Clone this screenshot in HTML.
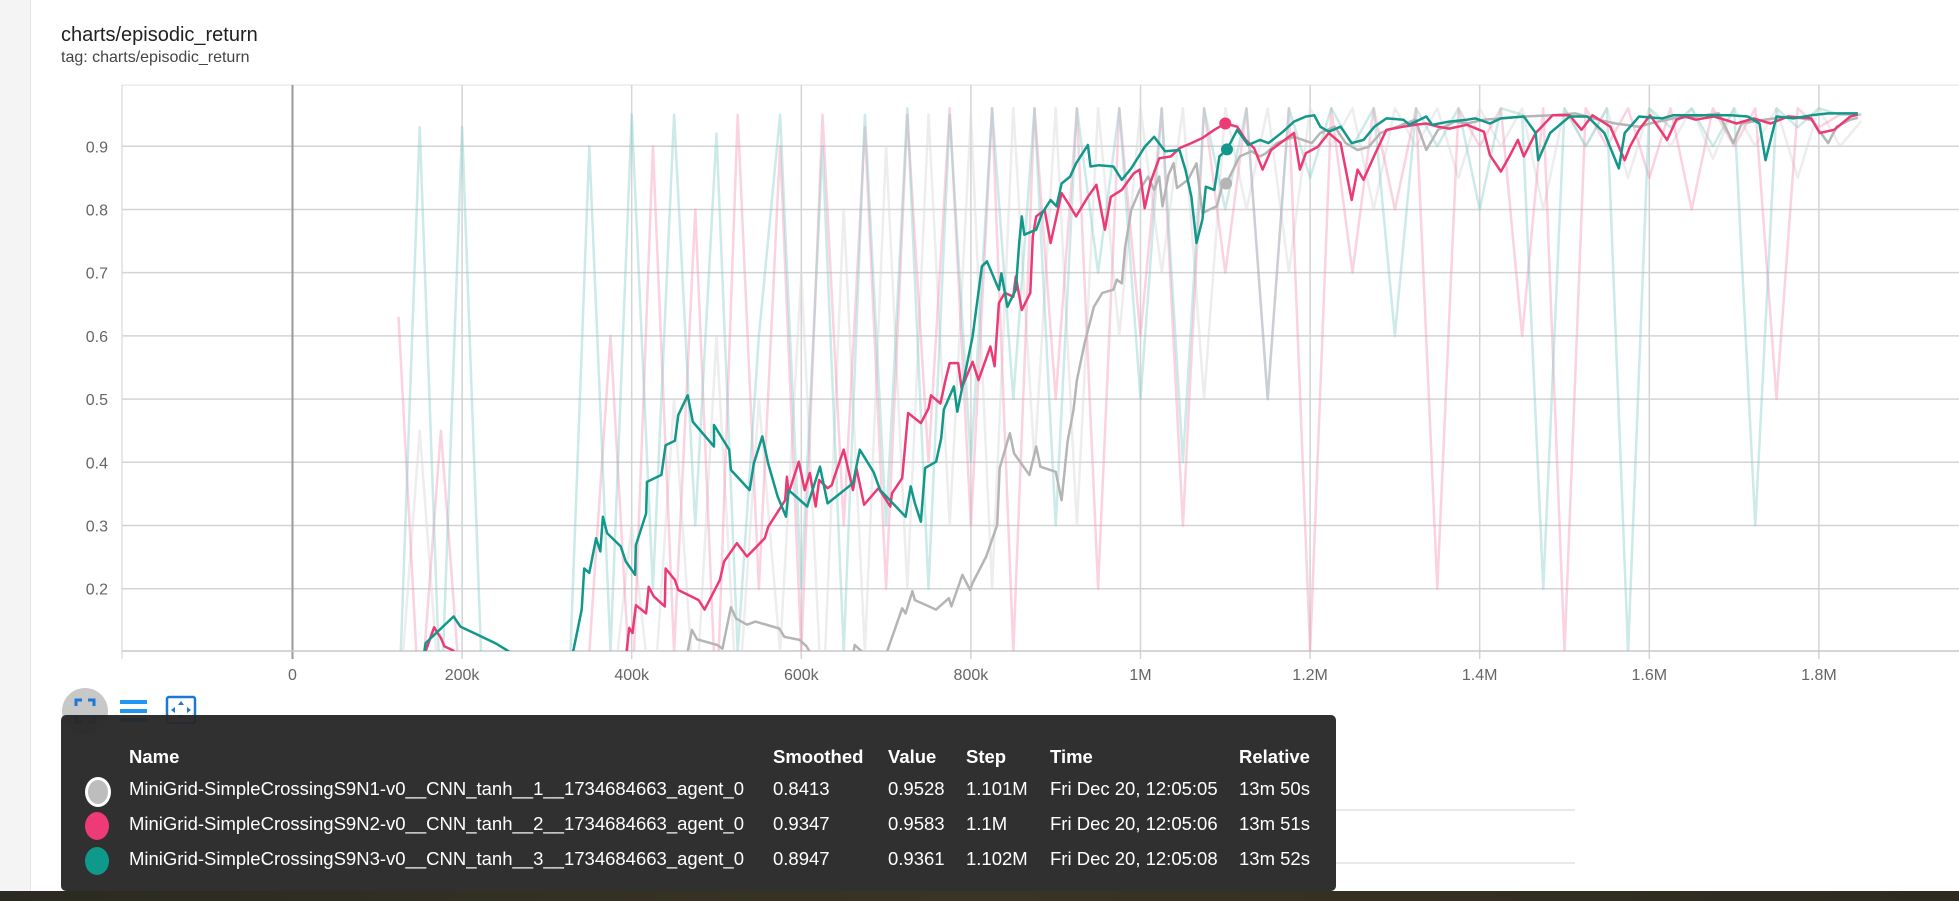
<!DOCTYPE html>
<html><head><meta charset="utf-8">
<style>
html,body{margin:0;padding:0;width:1959px;height:901px;overflow:hidden;background:#fff;font-family:"Liberation Sans",sans-serif;}
#side{position:absolute;left:0;top:0;width:30px;height:901px;background:#f4f4f4;border-right:1px solid #e4e4e4;}
#title{position:absolute;left:61px;top:24px;font-size:20px;color:#212121;}
#tag{position:absolute;left:61px;top:49px;font-size:16px;color:#444;}
svg{position:absolute;left:0;top:0;}
#legend{position:absolute;left:61px;top:715px;width:1275px;height:176px;background:rgba(40,40,40,0.96);border-radius:5px;color:#fff;font-size:18.5px;}
.row{position:absolute;left:0;width:100%;height:30px;}
.row span{position:absolute;white-space:nowrap;}
.hdr span{font-weight:bold;}
.dot{position:absolute;left:24px;width:24px;height:28px;border-radius:50%;}
#bottom{position:absolute;left:0;top:891px;width:1959px;height:10px;background:linear-gradient(90deg,#2b2a22,#3a3424 50%,#2e2a20);}
</style></head><body>
<div id="side"></div>
<div id="title">charts/episodic_return</div>
<div id="tag">tag: charts/episodic_return</div>
<svg id="chart" width="1959" height="901"></svg>
<div id="legend">
 <div class="row hdr" style="top:31px">
  <span style="left:68px">Name</span><span style="left:712px">Smoothed</span><span style="left:827px">Value</span><span style="left:905px">Step</span><span style="left:989px">Time</span><span style="left:1178px">Relative</span>
 </div>
 <div class="row" style="top:63px">
  <div class="dot" style="background:#bdbdbd;border:3px solid #fff;width:20px;height:24px;top:-1px"></div>
  <span style="left:68px">MiniGrid-SimpleCrossingS9N1-v0__CNN_tanh__1__1734684663_agent_0</span><span style="left:712px">0.8413</span><span style="left:827px">0.9528</span><span style="left:905px">1.101M</span><span style="left:989px">Fri Dec 20, 12:05:05</span><span style="left:1178px">13m 50s</span>
 </div>
 <div class="row" style="top:98px">
  <div class="dot" style="background:#ee3a77;top:-1px"></div>
  <span style="left:68px">MiniGrid-SimpleCrossingS9N2-v0__CNN_tanh__2__1734684663_agent_0</span><span style="left:712px">0.9347</span><span style="left:827px">0.9583</span><span style="left:905px">1.1M</span><span style="left:989px">Fri Dec 20, 12:05:06</span><span style="left:1178px">13m 51s</span>
 </div>
 <div class="row" style="top:133px">
  <div class="dot" style="background:#0f998a;top:-1px"></div>
  <span style="left:68px">MiniGrid-SimpleCrossingS9N3-v0__CNN_tanh__3__1734684663_agent_0</span><span style="left:712px">0.8947</span><span style="left:827px">0.9361</span><span style="left:905px">1.102M</span><span style="left:989px">Fri Dec 20, 12:05:08</span><span style="left:1178px">13m 52s</span>
 </div>
</div>
<div id="bottom"></div>
<script>
const xTicks=[0,200,400,600,800,1000,1200,1400,1600,1800];
const xTickLabels=["0","200k","400k","600k","800k","1M","1.2M","1.4M","1.6M","1.8M"];
const yTicks=[0.2,0.3,0.4,0.5,0.6,0.7,0.8,0.9];
const yTickLabels=["0.2","0.3","0.4","0.5","0.6","0.7","0.8","0.9"];
const rawSteps=[125,150,175,200,225,250,275,300,325,350,375,400,425,450,475,500,525,550,575,600,625,650,675,700,725,750,775,800,825,850,875,900,925,950,975,1000,1025,1050,1075,1100,1125,1150,1175,1200,1225,1250,1275,1300,1325,1350,1375,1400,1425,1450,1475,1500,1525,1550,1575,1600,1625,1650,1675,1700,1725,1750,1775,1800,1825,1850];
const rawGray=[0,0.45,0,0,0,0,0,0,0,0, 0,0.3,0,0.5,0,0.6,0,0.5,0.1,0.7, 0,0.8,0.1,0.9,0.2,0.95,0.3,0.95,0.2,0.96, 0.4,0.96,0.3,0.96,0.6,0.96,0.7,0.96,0.5,0.96, 0.8,0.96,0.7,0.96,0.9,0.96,0.8,0.96,0.9,0.96, 0.85,0.96,0.9,0.96,0.8,0.96,0.9,0.96,0.85,0.96, 0.9,0.96,0.88,0.96,0.9,0.96,0.85,0.96,0.9,0.94];
const rawPink=[0.63,0,0.45,0,0,0,0,0,0,0.1, 0.6,0,0.9,0.1,0.8,0,0.95,0.2,0.9,0.1, 0.95,0.3,0.93,0.2,0.95,0.4,0.96,0.3,0.96,0.1, 0.96,0.5,0.96,0.2,0.96,0.6,0.96,0.3,0.96,0.7, 0.96,0.5,0.96,0.1,0.96,0.7,0.96,0.8,0.96,0.2, 0.96,0.9,0.96,0.6,0.96,0.1,0.96,0.9,0.96,0.85, 0.96,0.8,0.96,0.9,0.96,0.5,0.96,0.93,0.95,0.95];
const rawTeal=[0,0.93,0,0.93,0,0,0,0,0,0.9, 0.1,0.95,0.2,0.95,0.3,0.92,0.1,0.6,0.95,0.2, 0.9,0.1,0.95,0.3,0.96,0.2,0.95,0.4,0.96,0.5, 0.96,0.3,0.96,0.7,0.96,0.5,0.96,0.4,0.96,0.8, 0.96,0.5,0.96,0.85,0.96,0.9,0.96,0.6,0.96,0.9, 0.96,0.8,0.96,0.95,0.2,0.96,0.9,0.96,0.1,0.96, 0.93,0.96,0.9,0.96,0.3,0.96,0.93,0.96,0.95,0.95];

const graySteps=[450,466,471,477,501,507,517,523,536,546,574,580,598,606,610,620,655,663,672,680,695,701,719,723,731,734,759,774,777,790,799,802,818,831,834,846,851,869,877,882,900,907,914,921,925,934,945,955,968,972,978,982,989,999,1009,1016,1022,1026,1033,1039,1043,1056,1066,1073,1080,1090,1097,1101,1107,1117,1131,1141,1148,1161,1181,1202,1212,1229,1242,1256,1269,1283,1303,1324,1337,1351,1371,1385,1405,1425,1452,1486,1513,1540,1560,1588,1601,1628,1655,1682,1699,1709,1736,1764,1791,1811,1821,1837,1846];
const grayVals=[0.05,0.101,0.135,0.12,0.111,0.105,0.171,0.153,0.143,0.148,0.137,0.124,0.119,0.109,0.1,0.05,0.05,0.111,0.1,0.05,0.05,0.1,0.169,0.161,0.196,0.182,0.167,0.185,0.172,0.222,0.198,0.209,0.251,0.301,0.391,0.446,0.414,0.38,0.425,0.393,0.385,0.34,0.433,0.483,0.53,0.588,0.646,0.668,0.673,0.689,0.683,0.741,0.799,0.831,0.852,0.831,0.852,0.805,0.855,0.873,0.834,0.847,0.873,0.794,0.799,0.805,0.841,0.841,0.857,0.884,0.892,0.884,0.889,0.905,0.915,0.905,0.921,0.931,0.905,0.894,0.899,0.921,0.931,0.942,0.894,0.926,0.939,0.936,0.942,0.944,0.947,0.949,0.952,0.942,0.936,0.931,0.936,0.944,0.947,0.952,0.905,0.936,0.942,0.947,0.942,0.905,0.931,0.942,0.945];

const pinkSteps=[150,157,167,175,179,190,200,385,394,397,401,405,417,420,426,439,440,451,455,479,486,504,509,524,536,557,561,581,583,585,597,604,610,617,621,631,636,639,650,661,665,674,691,705,707,719,726,741,750,753,764,770,775,785,789,802,809,823,828,833,840,850,853,860,870,873,877,887,894,901,907,917,924,938,948,958,965,978,992,999,1005,1012,1022,1036,1046,1060,1073,1087,1100,1114,1124,1134,1144,1154,1175,1181,1188,1195,1209,1222,1236,1249,1256,1263,1276,1290,1310,1324,1337,1351,1364,1385,1405,1412,1425,1435,1445,1452,1466,1486,1506,1520,1533,1554,1571,1577,1588,1601,1621,1632,1642,1655,1676,1689,1703,1723,1743,1764,1791,1801,1818,1837,1846];
const pinkVals=[0.05,0.101,0.139,0.122,0.109,0.102,0.05,0.05,0.101,0.138,0.13,0.174,0.161,0.203,0.188,0.172,0.232,0.214,0.198,0.182,0.167,0.214,0.243,0.272,0.251,0.28,0.298,0.34,0.377,0.351,0.401,0.356,0.383,0.33,0.372,0.359,0.364,0.377,0.42,0.356,0.391,0.333,0.359,0.33,0.351,0.375,0.478,0.462,0.485,0.506,0.493,0.53,0.557,0.557,0.517,0.559,0.53,0.583,0.552,0.652,0.668,0.662,0.694,0.641,0.668,0.757,0.789,0.799,0.747,0.789,0.826,0.805,0.789,0.82,0.839,0.768,0.82,0.831,0.857,0.863,0.802,0.844,0.881,0.884,0.897,0.905,0.913,0.926,0.936,0.931,0.91,0.897,0.863,0.894,0.915,0.921,0.863,0.889,0.899,0.921,0.905,0.815,0.863,0.847,0.886,0.926,0.931,0.934,0.936,0.931,0.928,0.934,0.923,0.886,0.86,0.884,0.91,0.884,0.921,0.949,0.949,0.926,0.949,0.931,0.878,0.899,0.926,0.949,0.91,0.942,0.947,0.942,0.947,0.942,0.936,0.944,0.936,0.947,0.944,0.921,0.926,0.947,0.95];

const tealSteps=[150,157,190,198,239,255,270,320,331,341,344,350,358,363,366,371,387,393,404,405,417,418,435,440,451,455,466,472,497,497,515,517,539,544,554,561,572,582,585,607,622,631,661,669,685,693,723,729,734,741,746,759,765,768,780,784,802,813,819,833,836,843,853,857,860,863,877,884,894,901,907,917,924,938,941,951,968,978,989,1005,1016,1029,1046,1053,1060,1066,1073,1077,1087,1093,1102,1114,1127,1141,1151,1168,1181,1195,1205,1212,1222,1236,1249,1263,1276,1290,1310,1317,1337,1344,1364,1385,1395,1412,1425,1452,1466,1469,1483,1506,1527,1547,1564,1571,1588,1615,1628,1655,1676,1696,1716,1730,1737,1750,1770,1791,1811,1837,1846];
const tealVals=[0.05,0.114,0.156,0.14,0.114,0.101,0.05,0.05,0.101,0.167,0.232,0.225,0.28,0.259,0.314,0.288,0.267,0.243,0.222,0.269,0.319,0.369,0.38,0.427,0.434,0.475,0.506,0.464,0.425,0.459,0.42,0.388,0.356,0.398,0.441,0.398,0.346,0.314,0.356,0.33,0.393,0.335,0.367,0.42,0.385,0.356,0.314,0.362,0.335,0.306,0.391,0.401,0.438,0.483,0.52,0.48,0.599,0.71,0.718,0.673,0.699,0.646,0.673,0.747,0.789,0.76,0.768,0.794,0.815,0.805,0.841,0.852,0.873,0.902,0.868,0.87,0.868,0.847,0.865,0.899,0.915,0.892,0.894,0.863,0.82,0.747,0.784,0.836,0.831,0.884,0.895,0.926,0.902,0.91,0.905,0.923,0.939,0.947,0.949,0.931,0.923,0.931,0.905,0.91,0.931,0.944,0.942,0.934,0.947,0.934,0.939,0.942,0.944,0.936,0.944,0.947,0.921,0.878,0.921,0.947,0.947,0.921,0.865,0.921,0.947,0.944,0.949,0.949,0.949,0.949,0.947,0.936,0.878,0.947,0.944,0.949,0.952,0.952,0.952];

const hoverSteps=[1101,1100,1102];
const hoverVals=[0.841,0.936,0.895];

const NS="http://www.w3.org/2000/svg";
const svg=document.getElementById('chart');
const L=122,R=1959,T=85,B=651;
function X(s){return 292.5+s/200*169.6;}
function Y(v){return 146.25+(0.9-v)*632.1;}
function mk(tag,attrs,parent){const e=document.createElementNS(NS,tag);for(const k in attrs)e.setAttribute(k,attrs[k]);(parent||svg).appendChild(e);return e;}

const defs=mk('defs',{});
const cp=mk('clipPath',{id:'plotclip'},defs);
mk('rect',{x:L,y:T,width:R-L,height:B-T},cp);

const grid=mk('g',{});


mk('line',{x1:L,x2:R,y1:T,y2:T,stroke:'#e0e0e0','stroke-width':1},grid);
mk('line',{x1:L,x2:L,y1:T,y2:B+8,stroke:'#d0d0d0','stroke-width':1},grid);
yTicks.forEach((v,i)=>{
  mk('line',{x1:L,x2:R,y1:Y(v),y2:Y(v),stroke:'#d4d4d4','stroke-width':1.5},grid);
  const t=mk('text',{x:108,y:Y(v)+6,'text-anchor':'end','font-size':16,fill:'#666','font-family':'Liberation Sans, sans-serif'});
  t.textContent=yTickLabels[i];
  
  
});
xTicks.forEach((s,i)=>{
  mk('line',{x1:X(s),x2:X(s),y1:T,y2:B+8,stroke:s===0?'#9a9a9a':'#d4d4d4','stroke-width':s===0?2:1.5},grid);
  const t=mk('text',{x:X(s),y:680,'text-anchor':'middle','font-size':16,fill:'#666','font-family':'Liberation Sans, sans-serif'});
  t.textContent=xTickLabels[i];
  
  
});
mk('line',{x1:L,x2:R,y1:B,y2:B,stroke:'#c8c8c8','stroke-width':1.5},grid);

const plot=mk('g',{'clip-path':'url(#plotclip)'});


function line(steps,vals,color,w,op,name){
  const n=Math.min(steps.length,vals.length);let d='';
  for(let i=0;i<n;i++)d+=(i?'L':'M')+X(steps[i]).toFixed(1)+','+Y(vals[i]).toFixed(1);
  const p=mk('path',{d:d,fill:'none',stroke:color,'stroke-width':w,'stroke-opacity':op,'stroke-linejoin':'round'},plot);
  
  
}
line(rawSteps,rawGray,'#dcdcdc',2.5,0.5,'raw-line-run1');
line(rawSteps,rawPink,'#f48fb1',2.5,0.4,'raw-line-run2');
line(rawSteps,rawTeal,'#80cbc4',2.5,0.4,'raw-line-run3');
line(graySteps,grayVals,'#b5b5b5',2.5,1,'smoothed-line-run1');
line(pinkSteps,pinkVals,'#ec3a74',2.5,1,'smoothed-line-run2');
line(tealSteps,tealVals,'#11988a',2.5,1,'smoothed-line-run3');
const hc=['#b5b5b5','#ec3a74','#11988a'];
hoverSteps.forEach((s,i)=>{
  const c=mk('circle',{cx:X(s),cy:Y(hoverVals[i]),r:6,fill:hc[i]},plot);
  
  
});

// toolbar icons
const ic=mk('g',{});


const b1=mk('circle',{cx:85,cy:711,r:23,fill:'#c8c8c8'},ic);


mk('path',{d:'M76,706 v-6 h6 M88,700 h6 v6 M94,716 v6 h-6 M82,722 h-6 v-6',stroke:'#1e78d2','stroke-width':3,fill:'none'},ic);
const b2=mk('g',{},ic);


[700,709,718].forEach(y=>mk('rect',{x:120,y:y,width:27,height:4,fill:'#2196f3'},b2));
const b3=mk('rect',{x:167,y:697,width:28,height:26,rx:2,fill:'none',stroke:'#1e78d2','stroke-width':2.5},ic);


mk('path',{d:'M181,701 l-3,4 h6z M181,719 l-3,-4 h6z M171,710 l4,-3 v6z M191,710 l-4,-3 v6z',fill:'#1e78d2'},ic);
// background panel lines peeking
[810,863].forEach(y=>mk('line',{x1:1336,x2:1575,y1:y,y2:y,stroke:'#e2e2e2','stroke-width':1.5},svg));
</script>
</body></html>
